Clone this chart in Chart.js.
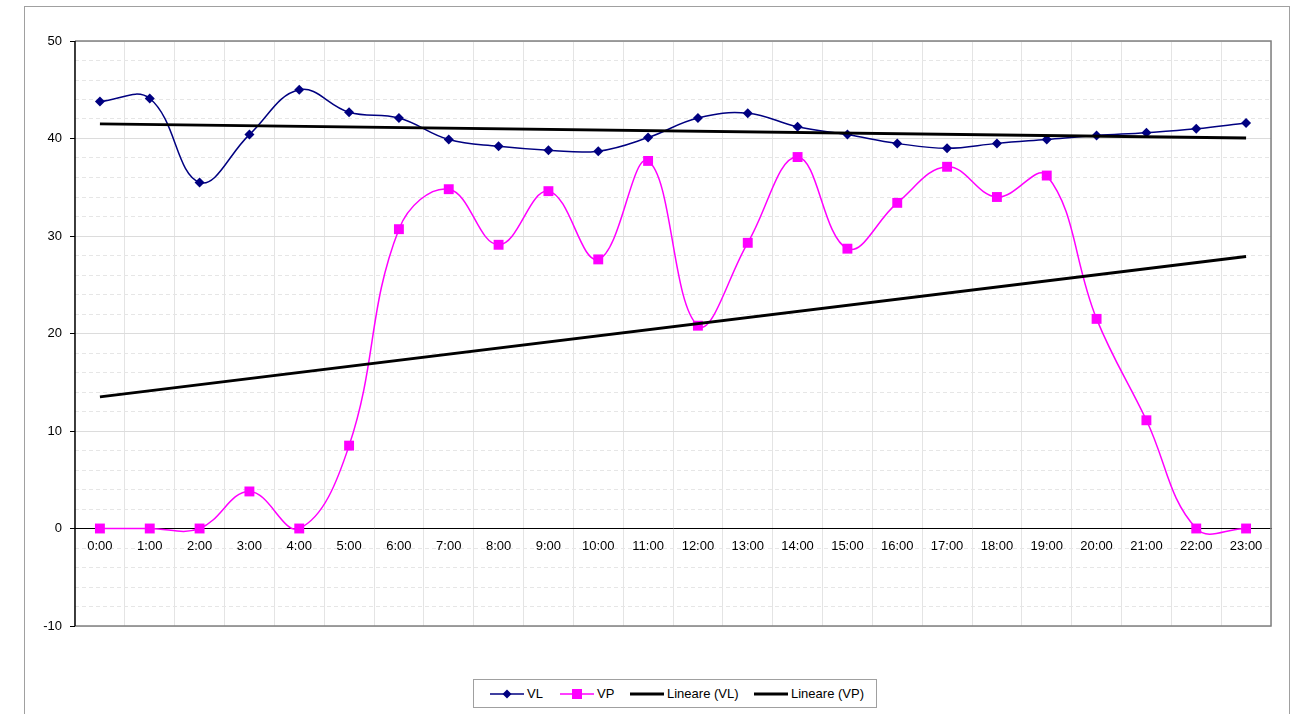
<!DOCTYPE html>
<html>
<head>
<meta charset="utf-8">
<script src="https://cdn.jsdelivr.net/npm/chart.js@4"></script>
<style>
  body { margin: 0; background: #fff; }
  #wrap { position: relative; width: 1294px; height: 714px; overflow: hidden; }
  #chart { position: absolute; left: 0; top: 0; }
  #legend {
    position: absolute; left: 473px; top: 679px; width: 402px; height: 27px;
    border: 1px solid #a0a0a0; background: #fff;
    font-family: "Liberation Sans", Arial, sans-serif; font-size: 13px; color: #000;
  }
  #legend .item { position: absolute; top: 0; height: 27px; line-height: 27px; white-space: nowrap; }
  #legend svg { vertical-align: middle; margin-right: 3px; margin-top: -2px; }
</style>
</head>
<body>
<div id="wrap">
  <canvas id="chart" width="1294" height="714"></canvas>
  <div id="legend">
    <div class="item" style="left:16px"><svg width="34" height="12"><line x1="0" y1="6" x2="34" y2="6" stroke="#000080" stroke-width="1.5"/><polygon points="17,1.5 21.5,6 17,10.5 12.5,6" fill="#000080"/></svg>VL</div>
    <div class="item" style="left:86px"><svg width="34" height="12"><line x1="0" y1="6" x2="34" y2="6" stroke="#ff00ff" stroke-width="1.5"/><rect x="12" y="1" width="10" height="10" fill="#ff00ff"/></svg>VP</div>
    <div class="item" style="left:156px"><svg width="34" height="12"><line x1="0" y1="6" x2="34" y2="6" stroke="#000" stroke-width="3"/></svg>Lineare (VL)</div>
    <div class="item" style="left:280px"><svg width="34" height="12"><line x1="0" y1="6" x2="34" y2="6" stroke="#000" stroke-width="3"/></svg>Lineare (VP)</div>
  </div>
</div>
<script>
// dati
const ore = ['0:00','1:00','2:00','3:00','4:00','5:00','6:00','7:00','8:00','9:00','10:00','11:00',
             '12:00','13:00','14:00','15:00','16:00','17:00','18:00','19:00','20:00','21:00','22:00','23:00'];
const valoriVL = [43.8, 44.1, 35.5, 40.4, 45.0, 42.7, 42.1, 39.9, 39.2, 38.8, 38.7, 40.1,
                  42.1, 42.6, 41.2, 40.4, 39.5, 39.0, 39.5, 39.9, 40.3, 40.6, 41.0, 41.6];
const valoriVP = [0, 0, 0, 3.8, 0, 8.5, 30.7, 34.8, 29.1, 34.6, 27.6, 37.7,
                  20.8, 29.3, 38.1, 28.7, 33.4, 37.1, 34.0, 36.2, 21.5, 11.1, 0, 0];
// estremi delle linee di tendenza (inizio, fine)
const trendVL = [41.5, 40.05];
const trendVP = [13.5, 27.9];
const yTicks = [-10, 0, 10, 20, 30, 40, 50];

function lineaTendenza(estremi) {
  const arr = ore.map(() => null);
  arr[0] = estremi[0];
  arr[ore.length - 1] = estremi[1];
  return arr;
}

Chart.defaults.font.family = '"Liberation Sans", Arial, sans-serif';
Chart.defaults.font.size = 13;
Chart.defaults.color = '#000';

const cornice = {
  id: 'cornice',
  beforeDraw(chart) {
    const ctx = chart.ctx;
    ctx.save();
    ctx.strokeStyle = '#a0a0a0';
    ctx.lineWidth = 1;
    ctx.strokeRect(24.5, 6.5, 1265, 720);
    ctx.restore();
  },
  afterDatasetsDraw(chart) {
    const a = chart.chartArea;
    const ctx = chart.ctx;
    ctx.save();
    ctx.strokeStyle = '#808080';
    ctx.lineWidth = 1.5;
    ctx.beginPath();
    ctx.moveTo(a.left, a.top);
    ctx.lineTo(a.right, a.top);
    ctx.lineTo(a.right, a.bottom);
    ctx.lineTo(a.left, a.bottom);
    ctx.stroke();
    ctx.strokeStyle = '#000';
    ctx.beginPath();
    ctx.moveTo(a.left, a.top);
    ctx.lineTo(a.left, a.bottom);
    ctx.stroke();
    ctx.restore();
  }
};

const ctx = document.getElementById('chart').getContext('2d');
new Chart(ctx, {
  type: 'line',
  data: {
    labels: ore,
    datasets: [
      {
        label: 'VL',
        data: valoriVL,
        order: 1,
        borderColor: '#000080',
        backgroundColor: '#000080',
        borderWidth: 1.5,
        pointStyle: 'rectRot',
        pointRadius: 5,
        pointBorderWidth: 0,
        tension: 0.4
      },
      {
        label: 'VP',
        data: valoriVP,
        order: 1,
        borderColor: '#ff00ff',
        backgroundColor: '#ff00ff',
        borderWidth: 1.5,
        pointStyle: 'rect',
        pointRadius: 7,
        pointBorderWidth: 0,
        tension: 0.4
      },
      {
        label: 'Lineare (VL)',
        data: lineaTendenza(trendVL),
        order: 0,
        borderColor: '#000',
        borderWidth: 3,
        pointRadius: 0,
        spanGaps: true
      },
      {
        label: 'Lineare (VP)',
        data: lineaTendenza(trendVP),
        order: 0,
        borderColor: '#000',
        borderWidth: 3,
        pointRadius: 0,
        spanGaps: true
      }
    ]
  },
  options: {
    responsive: false,
    animation: false,
    layout: { padding: { left: 0, right: 23, top: 41, bottom: 88 } },
    plugins: { legend: { display: false }, tooltip: { enabled: false } },
    scales: {
      x: {
        position: { y: 0 },
        offset: true,
        grid: { offset: true, color: '#e4e4e4', lineWidth: 1, drawTicks: false },
        border: { color: '#000', width: 1 },
        ticks: { padding: 10, maxRotation: 0, autoSkip: false }
      },
      y: {
        min: -10,
        max: 50,
        afterBuildTicks(scale) { scale.ticks = yTicks.map(v => ({ value: v })); },
        afterFit(scale) { scale.width = 75; },
        grid: { color: '#dcdcdc', tickColor: '#000', tickLength: 5 },
        border: { display: false },
        ticks: { padding: 8 }
      },
      yMinor: {
        position: 'right',
        min: -10,
        max: 50,
        ticks: { display: false, stepSize: 2 },
        afterFit(scale) { scale.width = 0; },
        grid: {
          drawTicks: false,
          color: c => (c.tick && c.tick.value % 10 === 0) ? 'rgba(0,0,0,0)' : '#e6e6e6'
        },
        border: { display: false, dash: [4, 3] }
      }
    }
  },
  plugins: [cornice]
});
</script>
</body>
</html>
